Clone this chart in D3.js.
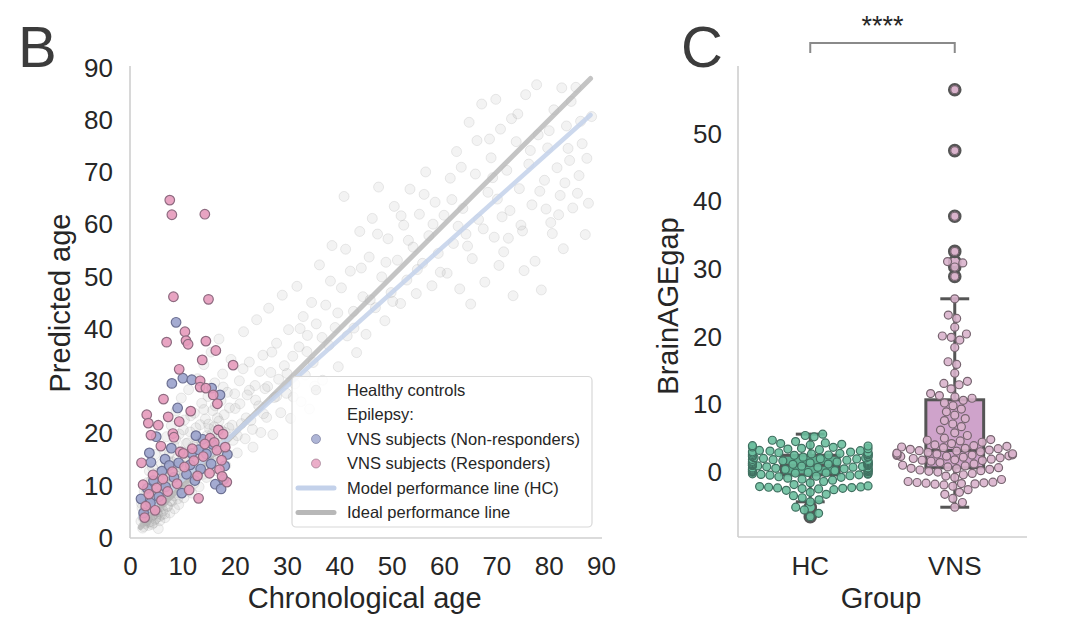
<!DOCTYPE html>
<html>
<head>
<meta charset="utf-8">
<script src="https://cdn.jsdelivr.net/npm/d3@7"></script>
<style>
  body { margin: 0; background: #fff; }
  text { font-family: "Liberation Sans", Arial, sans-serif; fill: #262626; }
</style>
</head>
<body>
<div id="chart"></div>
<script>
///////////////////////////////////////////// Data ////////////////////////////////////////////
// panel B: healthy controls [chronological age, predicted age]
const hcPoints = [
  [2.1,3.2],[2.3,5.8],[2.4,1.9],[2.6,4.1],[2.8,7.3],[2.9,2.8],[3.0,5.0],[3.1,9.2],[3.2,3.6],[3.4,6.4],
  [3.5,2.4],[3.6,4.8],[3.8,8.1],[3.9,3.1],[4.0,5.7],[4.1,11.0],[4.2,4.2],[4.4,6.9],[4.5,2.9],[4.6,7.8],
  [4.7,5.1],[4.9,9.6],[5.0,3.8],[5.1,6.2],[5.2,12.4],[5.3,4.6],[5.5,8.4],[5.6,5.9],[5.7,3.3],[5.8,10.1],
  [5.9,6.8],[6.0,14.2],[4.3,13.5],[3.3,10.6],[2.7,8.9],[5.4,1.8],[4.8,16.0],[3.7,12.8],[6.0,4.4],[2.2,6.6],
  [6.1,7.5],[6.2,10.8],[6.3,5.2],[6.5,9.0],[6.6,16.7],[6.7,3.9],[6.8,12.3],[6.9,7.9],[7.0,19.4],[7.1,6.1],
  [7.3,10.2],[7.4,14.6],[7.5,8.3],[7.6,4.8],[7.8,11.7],[7.9,21.5],[8.0,7.0],[8.1,13.4],[8.3,9.6],[8.4,17.8],
  [8.5,5.6],[8.7,12.0],[8.8,24.3],[8.9,8.7],[9.0,15.3],[9.2,10.9],[9.3,6.4],[9.4,19.9],[9.6,13.1],[9.7,9.2],
  [9.8,26.8],[10.0,11.5],[10.1,16.4],[10.3,7.7],[10.4,22.6],[10.6,12.8],[10.7,18.1],[10.9,9.9],[11.0,14.7],[11.2,28.4],
  [11.3,11.2],[11.5,20.3],[11.6,15.9],[11.8,8.6],[11.9,13.8],
  [12.0,17.5],[12.2,10.4],[12.3,23.9],[12.5,14.1],[12.6,19.2],[12.8,12.6],[12.9,30.5],[13.1,16.0],[13.2,9.8],[13.4,21.7],
  [13.5,14.9],[13.7,25.8],[13.8,18.4],[14.0,12.2],[14.1,33.2],[14.3,16.9],[14.4,22.8],[14.6,11.6],[14.7,19.6],[14.9,27.1],
  [15.0,15.2],[15.2,20.9],[15.3,13.3],[15.5,35.6],[15.6,18.0],[15.8,24.4],[15.9,14.8],[16.1,21.3],[16.2,29.7],[16.4,17.2],
  [16.5,12.9],[16.7,23.0],[16.9,19.5],[17.0,38.1],[17.2,15.7],[17.4,26.3],[17.5,20.6],[17.7,31.4],[17.9,17.8],[18.0,23.6],
  [18.3,13.9],[18.6,27.9],[18.9,21.1],[19.3,34.2],[19.7,18.7],
  [20.1,24.8],[20.5,16.3],[20.9,30.1],[21.3,21.9],[21.7,39.5],[22.0,19.0],[22.4,27.4],[22.8,33.7],[23.1,22.5],[23.5,17.4],
  [23.9,29.2],[24.2,41.8],[24.6,25.3],[25.0,20.2],[25.4,35.0],[25.8,28.6],[26.1,23.1],[26.5,44.0],[26.9,31.7],[27.3,19.8],
  [27.6,26.9],[28.0,37.3],[28.4,30.4],[28.8,24.0],[29.1,46.5],[29.5,33.0],[29.9,27.7],[30.3,39.9],[30.7,22.9],[31.1,34.8],
  [31.5,29.5],[31.9,48.2],[32.3,36.6],[32.7,26.1],[33.1,42.4],[33.5,31.2],[33.9,38.8],[34.3,24.7],[34.7,45.1],[35.0,33.6],
  [35.6,41.0],[36.2,52.3],[36.8,30.2],[37.4,44.6],[38.0,36.9],[38.6,56.0],[39.2,40.3],[39.8,32.8],[40.4,47.9],[40.9,65.4],
  [41.5,38.7],[42.1,51.1],[42.7,43.4],[43.3,35.5],[43.9,58.7],[44.5,46.2],[45.1,39.0],[45.7,53.8],[46.3,61.2],[46.9,44.1],
  [47.5,67.2],[48.1,50.0],[48.7,41.6],[49.3,57.3],[49.9,47.0],[50.5,63.5],[51.1,53.2],[51.7,44.9],[52.3,59.9],[52.9,49.4],
  [53.5,66.8],[54.1,55.7],[54.7,46.8],[55.3,62.0],[55.9,52.6],[56.5,70.1],[57.1,57.9],[57.7,48.3],[58.3,64.3],[58.9,54.5],
  [60.0,61.8],[60.6,50.7],[61.2,68.9],[61.8,56.4],[62.4,74.0],[63.0,47.7],[63.6,63.1],[64.2,58.2],[64.8,79.6],[65.4,53.5],
  [66.0,69.7],[66.6,61.0],[67.2,83.1],[67.8,49.0],[68.4,66.2],[69.0,72.8],[69.6,57.6],[70.2,64.9],[70.8,78.3],[71.4,54.8],
  [72.0,70.4],[72.6,62.7],[73.2,46.4],[73.8,75.9],[74.4,66.9],[75.0,58.8],[75.6,84.9],[76.2,71.6],[76.8,63.8],[77.4,53.0],
  [78.0,77.2],[78.6,47.5],[79.2,68.5],[79.8,74.7],[80.4,60.4],[81.0,82.0],[81.6,70.9],[82.2,65.6],[82.8,55.4],[83.4,78.9],
  [84.0,72.3],[84.6,63.2],[85.2,86.3],[85.8,69.4],[86.4,75.5],[87.0,58.1],[87.6,64.1],[88.2,80.7],[65.1,44.8],[70.5,52.2],
  [74.1,81.2],[77.7,86.8],[80.7,58.3],[83.1,68.0],[86.1,79.8],[68.7,76.4],[62.7,59.7],[79.5,63.0],[84.3,83.6],[72.3,57.4],
  [2.5,3.9],[2.6,2.2],[2.9,5.4],[3.1,3.3],[3.3,4.6],[3.5,7.0],[3.6,3.0],[3.9,5.2],[4.0,8.9],[4.2,2.6],
  [4.3,6.1],[4.5,4.5],[4.6,10.3],[4.8,3.6],[5.0,7.4],[5.1,5.0],[5.3,11.5],[5.4,6.6],[5.6,4.1],[5.8,8.0],
  [6.0,6.0],[6.1,9.4],[6.3,12.9],[6.4,7.0],[6.6,4.6],[6.7,10.6],[6.9,13.8],[7.0,8.4],[7.2,6.0],[7.4,11.9],
  [7.5,16.1],[7.7,9.3],[7.8,7.1],[8.0,14.6],[8.2,10.5],[8.4,8.1],[8.6,12.6],[8.7,18.9],[8.9,10.2],[9.1,7.5],
  [9.2,13.7],[9.4,11.1],[9.6,16.6],[9.8,9.3],[10.0,13.9],[10.2,20.7],[10.4,10.9],[10.6,15.1],[10.8,12.0],[11.0,18.2],
  [11.2,9.0],[11.4,13.3],[11.6,23.4],[11.8,16.7],[12.0,11.9],[12.3,14.6],[12.6,21.1],[12.9,16.3],[13.2,12.8],[13.5,18.8],
  [13.8,15.4],[14.1,24.6],[14.4,13.9],[14.7,17.7],[15.0,21.8],[15.3,16.4],[15.7,19.9],[16.0,14.3],[16.3,25.3],[16.7,18.6],
  [17.0,22.4],[17.4,16.9],[17.8,28.9],[18.2,20.2],[18.6,16.1],[19.0,24.9],[19.5,21.6],[20.0,27.6],[20.5,19.6],[21.0,25.7],
  [21.6,32.4],[22.2,23.0],[22.8,28.3],[23.4,20.8],[24.0,26.4],[24.8,31.9],[25.5,23.8],[26.3,29.0],[27.1,35.6],[28.0,27.1],
  [30.0,31.5],[31.2,27.0],[32.5,40.1],[33.8,35.7],[35.3,29.1],[36.7,38.4],[38.3,49.2],[39.7,43.1],[41.2,55.3],[42.8,40.2],
  [44.2,51.7],[45.9,45.6],[47.3,58.2],[48.9,52.8],[50.2,45.3],[51.8,61.7],[53.2,57.0],[54.9,51.4],[56.2,65.8],[57.9,60.1],
  [59.3,50.9],[61.5,64.8],[63.3,71.0],[64.5,55.9],[66.3,76.1],[67.5,59.2],[69.3,69.0],[71.1,61.5],[72.9,80.3],[74.7,59.9],
  [76.5,74.2],[78.3,66.4],[80.1,78.0],[81.9,61.9],[83.7,74.6],[85.5,66.0],[87.3,72.7],[75.3,51.2],[82.5,86.2],[69.9,84.0]
];

// panel B: VNS subjects
const vnsNonResp = [
  [8.8,41.3],[8.0,29.6],[10.1,30.6],[11.8,30.3],[15.6,28.7],[17.2,27.4],[5.0,19.4],[11.8,16.2],[13.1,16.9],[4.0,14.5],
  [6.7,15.1],[2.1,7.5],[2.6,4.8],[3.3,9.5],[3.9,6.7],[4.5,11.0],[5.5,7.9],[6.1,12.8],[6.8,9.8],[7.5,13.9],
  [8.4,11.6],[9.3,14.4],[9.9,8.6],[10.8,12.2],[11.5,14.0],[12.4,11.0],[13.5,13.2],[14.6,16.1],[15.5,14.2],[16.3,10.3],
  [17.4,9.4],[18.1,13.8],[18.6,16.0],[15.8,17.9],[13.9,18.9],[12.6,19.6],[7.9,17.2],[3.7,16.3],[9.1,24.9],[17.9,11.2]
];
const vnsResp = [
  [7.6,64.7],[8.0,61.9],[14.3,62.0],[8.3,46.2],[15.0,45.7],[10.5,39.5],[7.0,37.5],[10.7,37.8],[11.1,37.1],[14.5,37.7],
  [16.4,35.9],[13.8,34.1],[19.7,33.1],[9.4,32.3],[13.4,30.1],[13.4,28.9],[14.5,28.7],[15.9,27.4],[16.7,25.7],[6.4,26.6],
  [11.6,24.3],[3.2,23.6],[3.5,22.0],[5.4,21.6],[7.3,23.2],[9.4,22.3],[4.0,19.7],[8.2,20.0],[8.4,19.3],[5.9,17.6],
  [16.9,20.7],[17.8,19.9],[15.3,19.1],[14.3,18.0],[16.1,18.3],[9.6,16.5],[10.2,16.2],[2.2,14.4],[17.5,14.9],[18.5,10.7],
  [13.1,7.6],[2.5,10.2],[3.6,8.4],[4.4,12.1],[5.1,9.6],[6.3,11.3],[7.2,8.9],[8.1,12.7],[9.0,10.4],[10.4,13.6],
  [11.3,9.2],[12.2,14.8],[12.9,11.9],[14.0,15.6],[15.2,12.4],[16.6,16.8],[17.1,13.1],[18.2,17.4],[3.0,6.1],[4.8,5.3],
  [6.0,7.2],[17.6,11.8],[11.9,17.1],[2.8,3.9]
];

const modelLine = [[2, 4.0], [88, 81.0]];
const idealLine = [[2, 2], [88, 88]];
const ageTicks = [0, 10, 20, 30, 40, 50, 60, 70, 80, 90];

// panel C: BrainAGE gap per group
const groups = ["HC", "VNS"];
const hcGap = [
  5.6,5.4,5.2,4.7,4.5,4.3,4.2,4.1,4.0,3.9,3.85,3.7,3.65,3.5,3.45,3.4,3.3,3.2,3.15,3.1,
  3.0,2.95,2.9,2.85,2.8,2.75,2.7,2.68,2.62,2.6,2.56,2.52,
  2.47,2.41,2.33,2.3,2.22,2.19,2.12,2.08,2.01,1.97,1.93,1.86,1.82,1.74,1.71,1.66,1.58,1.55,
  1.49,1.44,1.42,1.36,1.31,1.27,1.25,1.21,1.17,1.14,1.11,1.08,1.05,1.01,
  0.98,0.93,0.9,0.86,0.81,0.77,0.72,0.69,0.63,0.6,0.55,0.51,0.47,0.42,0.38,0.33,0.3,0.24,0.2,0.16,
  0.11,0.07,0.02,-0.03,-0.07,-0.12,-0.16,-0.22,-0.27,-0.31,-0.36,-0.41,
  -0.47,-0.55,-0.62,-0.7,-0.78,-0.9,-1.05,-1.2,-1.4,-1.6,-1.85,-2.05,-2.15,-2.2,-2.25,-2.3,
  -2.35,-2.4,-2.45,-2.5,-2.6,-2.7,-3.0,-3.3,-3.5,-3.8,-4.1,-4.4,-5.2,-5.6,-6.1,-6.6
];
const vnsGap = [
  56.5,47.5,37.8,32.6,31.1,30.9,30.3,28.9,25.6,23.2,22.7,21.4,20.4,20.1,19.9,19.5,18.4,16.3,15.9,14.6,
  13.4,13.1,12.9,12.3,11.6,11.3,11.1,10.9,
  10.6,10.2,9.8,9.3,8.9,8.4,7.9,7.6,7.1,6.7,6.2,5.8,5.4,5.0,4.8,4.7,4.6,4.4,4.2,4.0,
  3.9,3.8,3.7,3.6,3.5,3.45,3.35,3.25,
  3.15,3.1,3.0,2.9,2.8,2.7,2.65,2.6,2.55,2.5,2.45,2.4,2.35,2.3,2.2,2.1,2.0,1.9,1.8,1.75,
  1.7,1.6,1.4,1.2,1.0,0.9,0.75,0.65,
  0.55,0.5,0.4,0.3,0.2,0.1,0.0,-0.2,-0.4,-0.6,-0.8,-1.1,-1.4,-1.5,-1.55,-1.6,-1.65,-1.7,-1.75,-1.8,
  -1.9,-2.1,-2.6,-3.0,-3.3,-3.9,-4.5,-5.2
];
const gapTicks = [0, 10, 20, 30, 40, 50];

const legendItems = [
  {label: "Healthy controls", kind: "hc"},
  {label: "Epilepsy:", kind: "none"},
  {label: "VNS subjects (Non-responders)", kind: "non"},
  {label: "VNS subjects (Responders)", kind: "resp"},
  {label: "Model performance line (HC)", kind: "model"},
  {label: "Ideal performance line", kind: "ideal"}
];

///////////////////////////////////////////// Set-Up ////////////////////////////////////////////
const W = 1080, H = 628;
const spine = "#cfcfcf";

const svg = d3.select("#chart").append("svg")
  .attr("width", W).attr("height", H);

svg.append("rect").attr("width", W).attr("height", H).attr("fill", "#fff");

///////////////////////////////////////////// Panel B ////////////////////////////////////////////
const x = d3.scaleLinear().domain([0, 90]).range([130, 601]);
const y = d3.scaleLinear().domain([0, 90]).range([538, 68]);

const gB = svg.append("g");

gB.append("g").attr("transform", "translate(0,538)")
  .call(d3.axisBottom(x).tickValues(ageTicks).tickSize(0).tickPadding(18.5))
  .call(g => g.select(".domain").attr("d", "M130,0H602"));
gB.append("g").attr("transform", "translate(130,0)")
  .call(d3.axisLeft(y).tickValues(ageTicks).tickSize(0).tickPadding(17))
  .call(g => g.select(".domain").attr("d", "M0,66V538"));

// healthy controls cloud
gB.append("g").selectAll("circle")
  .data(hcPoints).enter().append("circle")
  .attr("cx", d => x(d[0])).attr("cy", d => y(d[1])).attr("r", 5)
  .attr("fill", "#a0a0a0").attr("fill-opacity", 0.12)
  .attr("stroke", "#8a8a8a").attr("stroke-opacity", 0.17);

const line = d3.line().x(d => x(d[0])).y(d => y(d[1]));
gB.append("path").datum(idealLine).attr("d", line)
  .attr("stroke", "#b5b5b5").attr("stroke-width", 5).attr("stroke-linecap", "round")
  .attr("stroke-opacity", 0.8).attr("fill", "none");
gB.append("path").datum(modelLine).attr("d", line)
  .attr("stroke", "#c3d1ea").attr("stroke-width", 4.5).attr("stroke-linecap", "round")
  .attr("stroke-opacity", 0.85).attr("fill", "none");

const nonStyle = {fill: "#9aa2cc", stroke: "#6c7093"};
const respStyle = {fill: "#e69abb", stroke: "#8e6b80"};

function vnsDots(data, st) {
  gB.append("g").selectAll("circle")
    .data(data).enter().append("circle")
    .attr("cx", d => x(d[0])).attr("cy", d => y(d[1])).attr("r", 4.8)
    .attr("fill", st.fill).attr("fill-opacity", 0.9)
    .attr("stroke", st.stroke).attr("stroke-width", 1.2);
}
vnsDots(vnsNonResp, nonStyle);
vnsDots(vnsResp, respStyle);

// legend
const leg = gB.append("g");
leg.append("rect").attr("x", 292).attr("y", 376.5).attr("width", 300).attr("height", 150.5)
  .attr("rx", 4).attr("fill", "#fff").attr("fill-opacity", 0.85)
  .attr("stroke", "#d8d8d8").attr("stroke-width", 1.2);
const row = leg.selectAll("g.row").data(legendItems).enter().append("g")
  .attr("transform", (d, i) => "translate(0," + (390 + i * 24.5) + ")");
row.append("text").attr("x", 347).attr("dy", "0.35em")
  .style("font-size", "16.5px").text(d => d.label);
row.filter(d => d.kind === "hc").append("circle").attr("cx", 316).attr("r", 4.8)
  .attr("fill", "#a8a8a8").attr("fill-opacity", 0.12).attr("stroke", "#8f8f8f").attr("stroke-opacity", 0.12);
row.filter(d => d.kind === "non" || d.kind === "resp").append("circle").attr("cx", 316).attr("r", 4.5)
  .attr("fill", d => d.kind === "non" ? nonStyle.fill : respStyle.fill).attr("fill-opacity", 0.8)
  .attr("stroke", d => d.kind === "non" ? nonStyle.stroke : respStyle.stroke).attr("stroke-opacity", 0.6);
row.filter(d => d.kind === "model" || d.kind === "ideal").append("line")
  .attr("x1", 298).attr("x2", 334).attr("stroke-width", 5).attr("stroke-linecap", "round")
  .attr("stroke", d => d.kind === "model" ? "#c3d1ea" : "#b8b8b8");

gB.append("text").attr("x", 364.7).attr("y", 608).attr("text-anchor", "middle")
  .style("font-size", "29px").text("Chronological age");
gB.append("text").attr("transform", "translate(70,303) rotate(-90)").attr("text-anchor", "middle")
  .style("font-size", "29px").text("Predicted age");
gB.append("text").attr("x", 18).attr("y", 67).style("font-size", "58px").style("fill", "#3c3c3c").text("B");

///////////////////////////////////////////// Panel C ////////////////////////////////////////////
const xc = d3.scaleBand().domain(groups).range([738, 1027]);
const bw = xc.bandwidth();
const yc = d3.scaleLinear().domain([-9.6, 60]).range([537, 66]);

const gC = svg.append("g");
gC.append("g").attr("transform", "translate(0,537)")
  .call(d3.axisBottom(xc).tickSize(0).tickPadding(19.5))
  .call(g => g.select(".domain").attr("d", "M738,0H1027"));
gC.append("g").attr("transform", "translate(738,0)")
  .call(d3.axisLeft(yc).tickValues(gapTicks).tickSize(0).tickPadding(16))
  .call(g => g.select(".domain").attr("d", "M0,66V537"));

svg.selectAll(".tick text").style("font-size", "26px").style("fill", "#262626")
  .style("font-family", "'Liberation Sans', Arial, sans-serif");
svg.selectAll(".domain").attr("stroke", spine).attr("stroke-width", 1.6);

const gapData = {HC: hcGap, VNS: vnsGap};
const boxFill = {HC: "#5fae90", VNS: "#cfa3cb"};
const dotFill = {HC: "#6cbf9f", VNS: "#d9b2cc"};
const dotEdge = {HC: "#3f6e5f", VNS: "#76646f"};
const boxEdge = "#555555";

function boxStats(vals) {
  const s = vals.slice().sort(d3.ascending);
  const q1 = d3.quantile(s, 0.25), med = d3.quantile(s, 0.5), q3 = d3.quantile(s, 0.75);
  const iqr = q3 - q1;
  const lo = d3.min(s.filter(v => v >= q1 - 1.5 * iqr));
  const hi = d3.max(s.filter(v => v <= q3 + 1.5 * iqr));
  return {q1, med, q3, lo, hi, fliers: s.filter(v => v < lo || v > hi)};
}

// beeswarm: place points in value order at the smallest free offset, clamp to the gutter
function swarm(vals, cx, diam, maxOff) {
  const pts = vals.map(v => ({v: v, y: yc(v)})).sort((a, b) => b.y - a.y);
  const placed = [];
  pts.forEach(p => {
    const cand = [0];
    placed.forEach(q => {
      const dy = Math.abs(p.y - q.y);
      if (dy < diam) {
        const dx = Math.sqrt(diam * diam - dy * dy);
        cand.push(q.off + dx, q.off - dx);
      }
    });
    cand.sort((a, b) => Math.abs(a) - Math.abs(b));
    let off = cand[cand.length - 1];
    for (const c of cand) {
      const ok = placed.every(q => (c - q.off) ** 2 + (p.y - q.y) ** 2 >= diam * diam - 0.01);
      if (ok) { off = c; break; }
    }
    p.off = off;
    placed.push(p);
  });
  pts.forEach(p => { p.x = cx + Math.max(-maxOff, Math.min(maxOff, p.off)); });
  return pts;
}

groups.forEach(gname => {
  const st = boxStats(gapData[gname]);
  const cx = xc(gname) + bw / 2;
  const half = bw * 0.2;
  const g = gC.append("g");
  g.append("rect").attr("x", cx - half).attr("width", half * 2)
    .attr("y", yc(st.q3)).attr("height", yc(st.q1) - yc(st.q3))
    .attr("fill", boxFill[gname]).attr("stroke", boxEdge).attr("stroke-width", 3);
  g.append("line").attr("x1", cx).attr("x2", cx).attr("y1", yc(st.q3)).attr("y2", yc(st.hi))
    .attr("stroke", boxEdge).attr("stroke-width", 3);
  g.append("line").attr("x1", cx).attr("x2", cx).attr("y1", yc(st.q1)).attr("y2", yc(st.lo))
    .attr("stroke", boxEdge).attr("stroke-width", 3);
  [st.hi, st.lo].forEach(v => g.append("line")
    .attr("x1", cx - half / 2).attr("x2", cx + half / 2).attr("y1", yc(v)).attr("y2", yc(v))
    .attr("stroke", boxEdge).attr("stroke-width", 3));
  g.append("line").attr("x1", cx - half).attr("x2", cx + half).attr("y1", yc(st.med)).attr("y2", yc(st.med))
    .attr("stroke", boxEdge).attr("stroke-width", 3);
  g.selectAll("circle.flier").data(st.fliers).enter().append("circle")
    .attr("cx", cx).attr("cy", d => yc(d)).attr("r", 5.6)
    .attr("fill", dotFill[gname]).attr("stroke", boxEdge).attr("stroke-width", 2.4);

  const pts = swarm(gapData[gname], cx, 9, bw * 0.4);
  g.selectAll("circle.dot").data(pts).enter().append("circle")
    .attr("cx", d => d.x).attr("cy", d => d.y).attr("r", 4)
    .attr("fill", dotFill[gname]).attr("fill-opacity", 0.9)
    .attr("stroke", dotEdge[gname]).attr("stroke-width", 1.2);
});

// significance bracket
const cHC = xc("HC") + bw / 2, cVNS = xc("VNS") + bw / 2;
gC.append("path").attr("d", "M" + cHC + ",53V43H" + cVNS + "V53")
  .attr("fill", "none").attr("stroke", "#8a8a8a").attr("stroke-width", 2);
gC.append("text").attr("x", (cHC + cVNS) / 2).attr("y", 35).attr("text-anchor", "middle")
  .style("font-size", "27px").text("****");

gC.append("text").attr("x", 881).attr("y", 608).attr("text-anchor", "middle")
  .style("font-size", "29px").text("Group");
gC.append("text").attr("transform", "translate(678,306) rotate(-90)").attr("text-anchor", "middle")
  .style("font-size", "29px").text("BrainAGEgap");
gC.append("text").attr("x", 681).attr("y", 67).style("font-size", "58px").style("fill", "#3c3c3c").text("C");
</script>
</body>
</html>
